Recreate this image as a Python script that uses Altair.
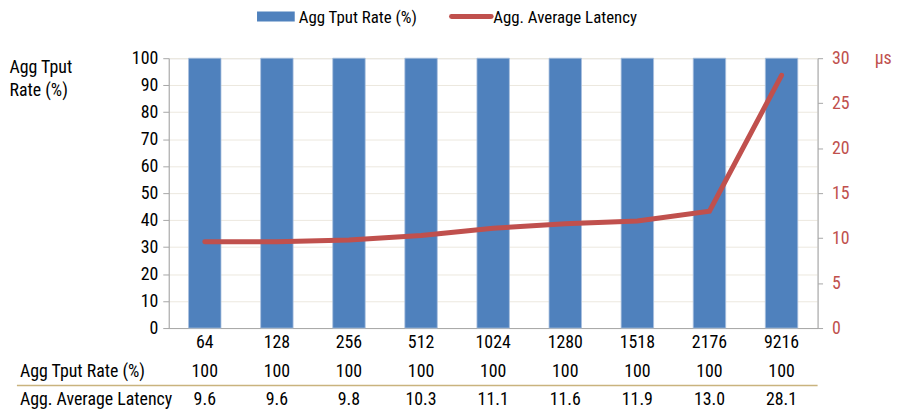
import altair as alt
import pandas as pd

FONT = "Roboto Condensed, Roboto, sans-serif"
FS = 18
BLUE = "#4F81BD"
RED = "#C0504D"

sizes = ["64", "128", "256", "512", "1024", "1280", "1518", "2176", "9216"]
tput_rate = [100, 100, 100, 100, 100, 100, 100, 100, 100]
latency = [9.6, 9.6, 9.8, 10.3, 11.1, 11.6, 11.9, 13.0, 28.1]
row_labels = ["Agg Tput Rate (%)", "Agg. Average Latency"]
legend_labels = ["Agg Tput Rate (%)", "Agg. Average Latency"]

df = pd.DataFrame({
    "size": sizes,
    "tput": tput_rate,
    "lat": latency,
    "tput_txt": [str(v) for v in tput_rate],
    "lat_txt": [f"{v:.1f}" for v in latency],
})

W, H = 654, 272

xenc = alt.X(
    "size:N", sort=sizes,
    scale=alt.Scale(paddingInner=0.55, paddingOuter=0.275),
    axis=alt.Axis(title=None, labelAngle=0, ticks=False, domainColor="#A6A6A6",
                  labelFont=FONT, labelFontSize=FS, labelColor="#000000",
                  labelPadding=6),
)

bars = alt.Chart(df).mark_bar(color=BLUE, stroke="#A9C0DE", strokeWidth=0.8).encode(
    x=xenc,
    y=alt.Y("tput:Q", scale=alt.Scale(domain=[0, 100]),
            axis=alt.Axis(title=["Agg Tput", "Rate (%)"], titleAngle=0, titleAlign="left",
                          titleBaseline="top", titleX=-161, titleY=0, titleLineHeight=24,
                          titleFont=FONT, titleFontSize=FS, titleFontWeight="normal",
                          titleColor="#000000",
                          values=list(range(0, 101, 10)), gridColor="#ECE8DF",
                          domainColor="#A6A6A6", tickColor="#A6A6A6", tickSize=6,
                          labelFont=FONT, labelFontSize=FS, labelColor="#000000",
                          labelPadding=5)),
)

line = alt.Chart(df).mark_line(color=RED, strokeWidth=5, strokeCap="round").encode(
    x=alt.X("size:N", sort=sizes),
    y=alt.Y("lat:Q", scale=alt.Scale(domain=[0, 30]),
            axis=alt.Axis(orient="right", title="μs", titleAngle=0, titleAlign="left",
                          titleBaseline="middle", titleX=57, titleY=0,
                          titleFont=FONT, titleFontSize=FS, titleFontWeight="normal",
                          titleColor=RED, values=[0, 5, 10, 15, 20, 25, 30],
                          grid=False, domainColor="#A6A6A6", tickColor="#A6A6A6",
                          tickSize=5, labelFont=FONT, labelFontSize=FS,
                          labelColor=RED, labelPadding=9)),
)

row1 = alt.Chart(df).mark_text(font=FONT, fontSize=FS, color="#000000", baseline="middle").encode(
    x=alt.X("size:N", sort=sizes), y=alt.value(316), text="tput_txt:N")
row2 = alt.Chart(df).mark_text(font=FONT, fontSize=FS, color="#000000", baseline="middle").encode(
    x=alt.X("size:N", sort=sizes), y=alt.value(345), text="lat_txt:N")

rl = pd.DataFrame({"label": row_labels, "yy": [316, 345]})
row_lab = alt.Chart(rl).mark_text(font=FONT, fontSize=FS, color="#000000",
                                  baseline="middle", align="left").encode(
    x=alt.value(-150), y=alt.Y("yy:Q", scale=None), text="label:N")

sep = alt.Chart(pd.DataFrame({"a": [0]})).mark_rule(color="#C9B37E", strokeWidth=1.5).encode(
    x=alt.value(-153), x2=alt.value(W), y=alt.value(330))

lg = pd.DataFrame({"label": legend_labels})
leg_rect = alt.Chart(pd.DataFrame({"a": [0]})).mark_rect(color=BLUE).encode(
    x=alt.value(89), x2=alt.value(127), y=alt.value(-47), y2=alt.value(-37))
leg_line = alt.Chart(pd.DataFrame({"a": [0]})).mark_rule(color=RED, strokeWidth=5, strokeCap="round").encode(
    x=alt.value(285), x2=alt.value(325), y=alt.value(-42))
leg_t1 = alt.Chart(lg.iloc[[0]]).mark_text(font=FONT, fontSize=17, color="#000000",
                                           align="left", baseline="alphabetic").encode(
    x=alt.value(131), y=alt.value(-35), text="label:N")
leg_t2 = alt.Chart(lg.iloc[[1]]).mark_text(font=FONT, fontSize=17, color="#000000",
                                           align="left", baseline="alphabetic").encode(
    x=alt.value(327), y=alt.value(-35), text="label:N")

chart = alt.layer(
    bars, line, row1, row2, row_lab, sep, leg_rect, leg_line, leg_t1, leg_t2
).resolve_scale(y="independent").properties(
    width=W, height=H,
    autosize=alt.AutoSizeParams(type="none"),
    padding={"left": 162, "top": 49, "right": 76, "bottom": 82},
).configure_view(stroke=None).configure(background="white")

chart.save("out.html", embed_options={"renderer": "svg", "actions": False})
